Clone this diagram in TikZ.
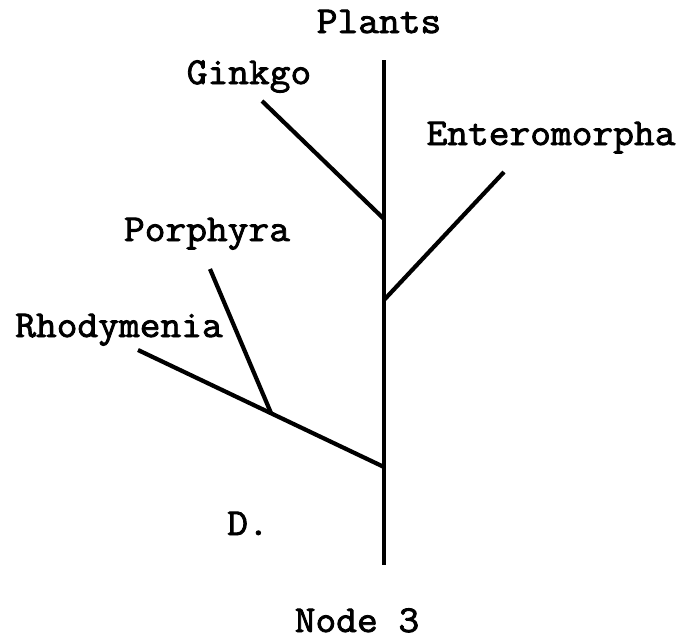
\documentclass[tikz,border=0pt]{standalone}
\usepackage{fontspec}
\newfontfamily\taxonfont{Latin Modern Mono}[FakeStretch=1.06,FakeBold=2.2]
\begin{document}
\begin{tikzpicture}[x=0.5pt,y=-0.5pt,
  taxon/.style={anchor=base,inner sep=0pt,font=\taxonfont\fontsize{19}{21}\selectfont},
  branch/.style={line width=2.1pt,line cap=butt,line join=miter}]
\useasboundingbox (0,0) rectangle (682,638);

% labels
\node[taxon] (plants) at (379,33)  {Plants};
\node[taxon] (ginkgo) at (249,84)  {Ginkgo};
\node[taxon] (entero) at (551,145) {Enteromorpha};
\node[taxon] (porph)  at (207,241) {Porphyra};
\node[taxon] (rhody)  at (119,337) {Rhodymenia};
\node[taxon] (dlabel) at (248,535) {D.};
\node[taxon] (node3)  at (357,632) {Node 3};

% trunk ends, junctions and branch tips
\coordinate (top)    at (384,60);
\coordinate (bottom) at (384,565);
\coordinate (jG)     at (384,219);
\coordinate (jE)     at (384,300);
\coordinate (jR)     at (384,467);
\coordinate (jP)     at (271,413);
\coordinate (tG)     at (262,101);
\coordinate (tE)     at (504,172);
\coordinate (tR)     at (138,350);
\coordinate (tP)     at (210,269);

% tree
\draw[branch] (top) -- (bottom);
\draw[branch] (tG) -- (jG);
\draw[branch] (tE) -- (jE);
\draw[branch] (tR) -- (jR);
\draw[branch] (tP) -- (jP);
\end{tikzpicture}
\end{document}
